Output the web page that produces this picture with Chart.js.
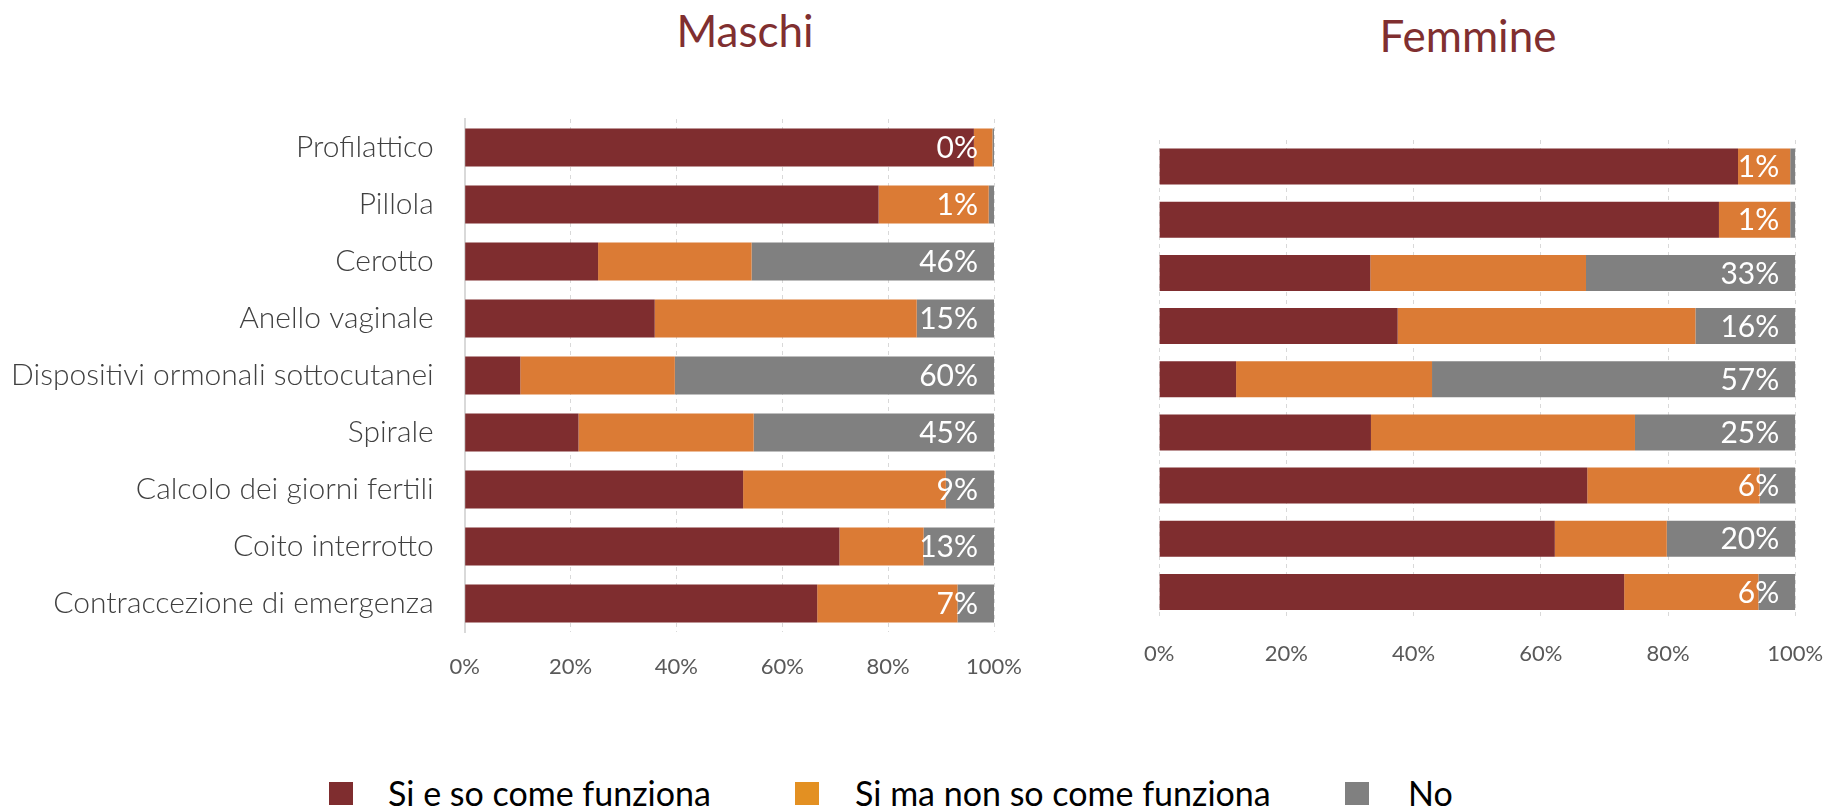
<!DOCTYPE html>
<html>
<head>
<meta charset="utf-8">
<script src="https://cdn.jsdelivr.net/npm/chart.js@4.4.1/dist/chart.umd.min.js"></script>
<style>
  body { margin: 0; background: #fff; width: 1830px; height: 809px; position: relative; overflow: hidden; font-family: Lato, sans-serif; }
  .box { position: absolute; }
  .title { position: absolute; width: 400px; text-align: center; font-size: 44px; line-height: 44px; color: #802f30; }
  .lg-sq { position: absolute; width: 24px; height: 23px; }
  .lg-tx { position: absolute; font-size: 34px; line-height: 34px; color: #000; white-space: nowrap; }
</style>
</head>
<body>
<div class="title" style="left:545px; top:8px;">Maschi</div>
<div class="title" style="left:1268px; top:13px;">Femmine</div>

<div class="box" style="left:0; top:0; width:1060px; height:720px;"><canvas id="maschiChart"></canvas></div>
<div class="box" style="left:1100px; top:0; width:800px; height:700px;"><canvas id="femmineChart"></canvas></div>

<div class="lg-sq" style="left:329px; top:782px; background:#7f2d2f;"></div>
<div class="lg-tx" style="left:388px; top:776px;">Si e so come funziona</div>
<div class="lg-sq" style="left:795px; top:782px; background:#e39022;"></div>
<div class="lg-tx" style="left:855px; top:776px;">Si ma non so come funziona</div>
<div class="lg-sq" style="left:1345px; top:782px; background:#808080;"></div>
<div class="lg-tx" style="left:1408px; top:776px;">No</div>

<script>
  const categories = [
    "Profilattico",
    "Pillola",
    "Cerotto",
    "Anello vaginale",
    "Dispositivi ormonali sottocutanei",
    "Spirale",
    "Calcolo dei giorni fertili",
    "Coito interrotto",
    "Contraccezione di emergenza",
  ];
  const seriesNames = ["Si e so come funziona", "Si ma non so come funziona", "No"];
  const barColors = ["#7f2d2f", "#db7b35", "#808080"];
  const xTicks = [0, 20, 40, 60, 80, 100];

  // Maschi (%)
  const maschiSi = [96.2, 78.2, 25.2, 35.9, 10.5, 21.5, 52.6, 70.8, 66.6];
  const maschiSiMa = [3.5, 20.8, 29.0, 49.5, 29.2, 33.1, 38.3, 15.9, 26.5];
  const maschiNo = [0.3, 1.0, 45.8, 14.6, 60.3, 45.4, 9.1, 13.3, 6.9];

  // Femmine (%)
  const femmineSi = [91.0, 88.0, 33.2, 37.5, 12.1, 33.3, 67.3, 62.2, 73.1];
  const femmineSiMa = [8.2, 11.2, 33.9, 46.8, 30.8, 41.5, 27.1, 17.6, 21.1];
  const femmineNo = [0.8, 0.8, 32.9, 15.7, 57.1, 25.2, 5.6, 20.2, 5.8];

  // white "No" labels at the right end of each bar
  function noLabels(offset) {
    return {
      id: "noLabels",
      afterDatasetsDraw: (chart) => {
        const ctx = chart.ctx;
        const x = chart.scales.x.getPixelForValue(100) - offset;
        const meta = chart.getDatasetMeta(2);
        const values = chart.data.datasets[2].data;
        ctx.save();
        ctx.font = "30px Lato";
        ctx.fillStyle = "#ffffff";
        ctx.textAlign = "right";
        ctx.textBaseline = "middle";
        meta.data.forEach((bar, i) => {
          ctx.fillText(Math.round(values[i]) + "%", x, bar.y + 1);
        });
        ctx.restore();
      },
    };
  }

  function makeChart(id, values, opts) {
    const ctx = document.getElementById(id).getContext("2d");
    const dataSet = values.map((v, i) => ({
      label: seriesNames[i],
      data: v,
      backgroundColor: barColors[i],
      borderWidth: 0,
      barPercentage: opts.barPct,
      categoryPercentage: 1,
    }));
    return new Chart(ctx, {
      type: "bar",
      data: { labels: categories, datasets: dataSet },
      options: {
        indexAxis: "y",
        responsive: true,
        maintainAspectRatio: false,
        animation: false,
        layout: { padding: opts.padding },
        plugins: { legend: { display: false }, tooltip: { enabled: false } },
        scales: {
          x: {
            stacked: true,
            min: 0,
            max: 100,
            afterBuildTicks: (scale) => {
              scale.ticks = xTicks.map((v) => ({ value: v }));
            },
            afterFit: (scale) => {
              scale.height = 50;
            },
            grid: { color: "#d9d9d9", lineWidth: 1, drawTicks: false },
            border: { display: false, dash: [4, 4] },
            ticks: {
              padding: 22,
              color: "#595959",
              font: { family: "Lato", size: 22 },
              callback: (v) => v + "%",
            },
          },
          y: {
            stacked: true,
            display: opts.showY,
            afterFit: (scale) => {
              scale.width = opts.yWidth;
            },
            grid: { display: false, drawTicks: false },
            border: { display: true, color: "#d9d9d9", width: 2 },
            ticks: {
              padding: 31,
              color: "#404040",
              font: { family: "Lato", size: 30, weight: 300 },
            },
          },
        },
      },
      plugins: [noLabels(opts.labelOffset)],
    });
  }

  makeChart("maschiChart", [maschiSi, maschiSiMa, maschiNo], {
    padding: { left: 0, right: 66, top: 119, bottom: 38 },
    yWidth: 464.7,
    showY: true,
    barPct: 0.667,
    labelOffset: 16,
  });

  makeChart("femmineChart", [femmineSi, femmineSiMa, femmineNo], {
    padding: { left: 59.1, right: 104.7, top: 140, bottom: 31.5 },
    yWidth: 0,
    showY: false,
    barPct: 0.677,
    labelOffset: 16,
  });
</script>
</body>
</html>
